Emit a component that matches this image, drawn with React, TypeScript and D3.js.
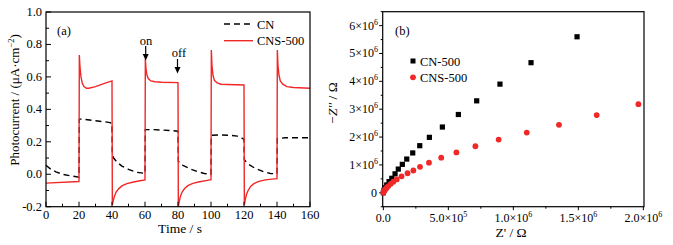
import React from "react";
import * as d3 from "d3";

// Panel (a) data: photocurrent vs time
const cnsTime = [0, 20, 20.2, 20.6, 21.2, 22, 23, 24.5, 26, 30, 35, 40,
  40.2, 40.8, 41.5, 42.5, 44, 46, 49, 53, 57, 60,
  60.2, 60.6, 61.2, 62, 63.5, 66, 70, 80,
  80.2, 80.8, 81.5, 82.5, 84, 86, 89, 93, 97, 100,
  100.2, 100.6, 101.2, 102, 103.5, 106, 110, 120,
  120.2, 120.8, 121.5, 122.5, 124, 126, 129, 133, 137, 140,
  140.2, 140.6, 141.2, 142, 143.5, 146, 150, 160];
const cnsValue = [-0.055, -0.045, 0.735, 0.66, 0.6, 0.56, 0.54, 0.53, 0.53, 0.54, 0.558, 0.575,
  -0.19, -0.16, -0.135, -0.11, -0.09, -0.072, -0.058, -0.048, -0.04, -0.035,
  0.71, 0.65, 0.61, 0.59, 0.575, 0.57, 0.567, 0.565,
  -0.2, -0.165, -0.135, -0.11, -0.088, -0.07, -0.056, -0.046, -0.039, -0.034,
  0.766, 0.67, 0.61, 0.58, 0.565, 0.555, 0.553, 0.55,
  -0.19, -0.155, -0.125, -0.1, -0.075, -0.058, -0.044, -0.035, -0.03, -0.027,
  0.766, 0.67, 0.61, 0.575, 0.555, 0.54, 0.535, 0.53];

const cnTime = [0, 3, 6, 10, 15, 20, 20.2, 22, 30, 38, 40,
  40.2, 41, 43, 46, 50, 55, 60,
  60.2, 65, 75, 80,
  80.2, 81, 83, 87, 92, 96, 100,
  100.2, 105, 112, 116, 118, 120,
  120.2, 121, 123, 127, 132, 136, 140,
  140.2, 145, 160];
const cnValue = [0.055, 0.03, 0.015, 0.0, -0.01, -0.018, 0.34, 0.34, 0.33, 0.32, 0.315,
  0.12, 0.1, 0.075, 0.05, 0.03, 0.012, 0.005,
  0.275, 0.275, 0.27, 0.265,
  0.08, 0.07, 0.055, 0.035, 0.015, 0.005, 0.0,
  0.24, 0.242, 0.24, 0.235, 0.228, 0.215,
  0.09, 0.08, 0.06, 0.035, 0.015, 0.005, 0.002,
  0.22, 0.225, 0.225];

const aXTicks = [0, 20, 40, 60, 80, 100, 120, 140, 160];
const aYTicks = [-0.2, 0.0, 0.2, 0.4, 0.6, 0.8, 1.0];

// Panel (b) data: Nyquist plot
const cn500Re = [0, 0.005e6, 0.013e6, 0.026e6, 0.044e6, 0.065e6, 0.09e6, 0.115e6, 0.146e6, 0.18e6, 0.226e6, 0.28e6, 0.354e6, 0.454e6, 0.577e6, 0.718e6, 0.897e6, 1.136e6, 1.49e6];
const cn500Im = [0, 0.09e6, 0.18e6, 0.28e6, 0.4e6, 0.52e6, 0.68e6, 0.85e6, 1.02e6, 1.21e6, 1.43e6, 1.69e6, 1.99e6, 2.36e6, 2.81e6, 3.3e6, 3.9e6, 4.67e6, 5.6e6];
const cns500Re = [0, 0.003e6, 0.008e6, 0.013e6, 0.02e6, 0.026e6, 0.038e6, 0.057e6, 0.077e6, 0.103e6, 0.14e6, 0.186e6, 0.231e6, 0.282e6, 0.351e6, 0.445e6, 0.562e6, 0.708e6, 0.887e6, 1.103e6, 1.351e6, 1.641e6, 1.962e6];
const cns500Im = [0, 0.04e6, 0.08e6, 0.12e6, 0.15e6, 0.18e6, 0.24e6, 0.32e6, 0.4e6, 0.48e6, 0.59e6, 0.7e6, 0.8e6, 0.93e6, 1.08e6, 1.26e6, 1.45e6, 1.67e6, 1.91e6, 2.16e6, 2.44e6, 2.79e6, 3.18e6];

const bXTicks = [0, 0.5e6, 1.0e6, 1.5e6, 2.0e6];
const bXTickLabels = [["0.0", ""], ["5.0×10", "5"], ["1.0×10", "6"], ["1.5×10", "6"], ["2.0×10", "6"]];
const bYTicks = [0, 1e6, 2e6, 3e6, 4e6, 5e6, 6e6];
const bYTickLabels = [["0", ""], ["1×10", "6"], ["2×10", "6"], ["3×10", "6"], ["4×10", "6"], ["5×10", "6"], ["6×10", "6"]];

const FONT = "'Liberation Serif', 'Times New Roman', serif";
const RED = "#f02828";

export default function App() {
  // Panel a scales
  const ax = d3.scaleLinear().domain([0, 160]).range([46, 310]);
  const ay = d3.scaleLinear().domain([-0.2, 1.0]).range([206.7, 12]);
  // Panel b scales
  const bx = d3.scaleLinear().domain([-5000, 2.005e6]).range([382.7, 644]);
  const by = d3.scaleLinear().domain([-0.5e6, 6.5e6]).range([206.7, 11.7]);

  const line = d3.line<[number, number]>().x(d => ax(d[0])).y(d => ay(d[1]));
  const cnsPath = line(cnsTime.map((t, i) => [t, cnsValue[i]]) as [number, number][]) || "";
  const cnPath = line(cnTime.map((t, i) => [t, cnValue[i]]) as [number, number][]) || "";

  const aXMinor = d3.range(10, 160, 20);
  const aYMinor = d3.range(-0.1, 1.0, 0.2);
  const bXMinor = [0.25e6, 0.75e6, 1.25e6, 1.75e6];
  const bYMinor = [-0.5e6, 0.5e6, 1.5e6, 2.5e6, 3.5e6, 4.5e6, 5.5e6, 6.5e6];

  const [ax0, ax1] = ax.range();
  const [ay0, ay1] = ay.range();
  const [bx0, bx1] = bx.range();
  const [by0, by1] = by.range();

  return (
    <svg width={673} height={245} style={{ position: "absolute", left: 0, top: 0, background: "#fff" }} fontFamily={FONT}>
      <rect x={0} y={0} width={673} height={245} fill="#fff" />
      {/* Panel (a) */}
      <g>
        <path d={cnPath} fill="none" stroke="#000" strokeWidth={1.4} strokeDasharray="6,4" />
        <path d={cnsPath} fill="none" stroke={RED} strokeWidth={1.4} />
        <rect x={ax0} y={ay1} width={ax1 - ax0} height={ay0 - ay1} fill="none" stroke="#000" strokeWidth={1.2} />
        {aXTicks.map(t => (
          <g key={"axt" + t}>
            <line x1={ax(t)} x2={ax(t)} y1={ay0} y2={ay0 - 5} stroke="#000" strokeWidth={1} />
            <text x={ax(t)} y={218.5} fontSize={12.5} textAnchor="middle">{t}</text>
          </g>
        ))}
        {aXMinor.map(t => (
          <line key={"axm" + t} x1={ax(t)} x2={ax(t)} y1={ay0} y2={ay0 - 3} stroke="#000" strokeWidth={1} />
        ))}
        {aYTicks.map(v => (
          <g key={"ayt" + v}>
            <line x1={ax0} x2={ax0 + 5} y1={ay(v)} y2={ay(v)} stroke="#000" strokeWidth={1} />
            <text x={42} y={ay(v) + 4} fontSize={12.5} textAnchor="end">{v.toFixed(1)}</text>
          </g>
        ))}
        {aYMinor.map(v => (
          <line key={"aym" + v} x1={ax0} x2={ax0 + 3} y1={ay(v)} y2={ay(v)} stroke="#000" strokeWidth={1} />
        ))}
        <text x={180} y={232.5} fontSize={13.5} textAnchor="middle">Time / s</text>
        <text transform={`translate(18.5,100) rotate(-90)`} fontSize={13} textAnchor="middle">
          Photocurrent / (μA·cm<tspan dy={-5} fontSize={8.5}>−2</tspan><tspan dy={5}>)</tspan>
        </text>
        <text x={57} y={35} fontSize={12.5}>(a)</text>
        {/* legend */}
        <line x1={224} x2={253} y1={24} y2={24} stroke="#000" strokeWidth={1.4} strokeDasharray="6,4" />
        <text x={257} y={28.5} fontSize={12.5}>CN</text>
        <line x1={224} x2={253} y1={40.7} y2={40.7} stroke={RED} strokeWidth={1.4} />
        <text x={257} y={45} fontSize={12.5}>CNS-500</text>
        {/* on/off annotations */}
        <text x={146} y={44.5} fontSize={12.5} textAnchor="middle">on</text>
        <line x1={145.7} x2={145.7} y1={46} y2={56} stroke="#000" strokeWidth={1.2} />
        <path d="M142.7,54 L145.7,60.5 L148.7,54 Z" fill="#000" />
        <text x={179} y={57} fontSize={12.5} textAnchor="middle">off</text>
        <line x1={177.5} x2={177.5} y1={59} y2={69} stroke="#000" strokeWidth={1.2} />
        <path d="M174.5,67 L177.5,73.5 L180.5,67 Z" fill="#000" />
      </g>
      {/* Panel (b) */}
      <g>
        <rect x={bx0} y={by1} width={bx1 - bx0} height={by0 - by1} fill="none" stroke="#000" strokeWidth={1.2} />
        {bXTicks.map((t, i) => (
          <g key={"bxt" + t}>
            <line x1={bx(t)} x2={bx(t)} y1={by0} y2={by0 + 3.5} stroke="#000" strokeWidth={1} />
            <text x={bx(t)} y={221.5} fontSize={12} textAnchor="middle">
              {bXTickLabels[i][0]}
              {bXTickLabels[i][1] && <tspan dy={-5} fontSize={8}>{bXTickLabels[i][1]}</tspan>}
            </text>
          </g>
        ))}
        {bXMinor.map(t => (
          <line key={"bxm" + t} x1={bx(t)} x2={bx(t)} y1={by0} y2={by0 + 2} stroke="#000" strokeWidth={1} />
        ))}
        {bYTicks.map((v, i) => (
          <g key={"byt" + v}>
            <line x1={bx0} x2={bx0 - 3.5} y1={by(v)} y2={by(v)} stroke="#000" strokeWidth={1} />
            <text x={bYTickLabels[i][1] ? 378 : 377} y={by(v) + 4} fontSize={12} textAnchor="end">
              {bYTickLabels[i][0]}
              {bYTickLabels[i][1] && <tspan dy={-5} fontSize={8}>{bYTickLabels[i][1]}</tspan>}
            </text>
          </g>
        ))}
        {bYMinor.map(v => (
          <line key={"bym" + v} x1={bx0} x2={bx0 - 2} y1={by(v)} y2={by(v)} stroke="#000" strokeWidth={1} />
        ))}
        {cn500Re.map((r, i) => (
          <rect key={"sq" + i} x={bx(r) - 2.6} y={by(cn500Im[i]) - 2.6} width={5.2} height={5.2} fill="#000" />
        ))}
        {cns500Re.map((r, i) => (
          <circle key={"ci" + i} cx={bx(r)} cy={by(cns500Im[i])} r={2.9} fill={RED} />
        ))}
        <text x={511} y={237} fontSize={13.5} textAnchor="middle">Z' / Ω</text>
        <text transform={`translate(337,103) rotate(-90)`} fontSize={13.5} textAnchor="middle">
          −<tspan fontStyle="italic">Z''</tspan> / Ω
        </text>
        <text x={395} y={35} fontSize={12.5}>(b)</text>
        <rect x={410.5} y={58.5} width={5} height={5} fill="#000" />
        <text x={420} y={65.5} fontSize={12.5}>CN-500</text>
        <circle cx={413} cy={77.3} r={2.9} fill={RED} />
        <text x={420} y={82} fontSize={12.5}>CNS-500</text>
      </g>
    </svg>
  );
}
